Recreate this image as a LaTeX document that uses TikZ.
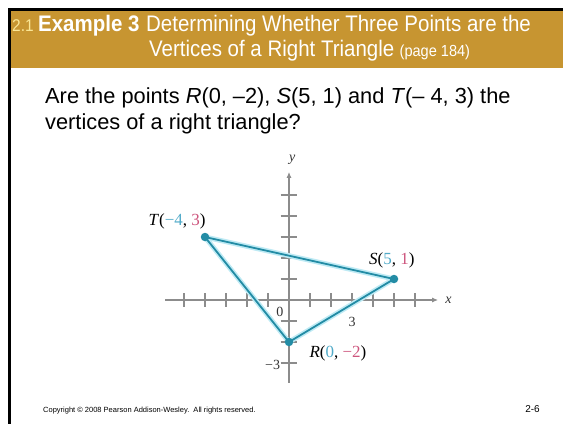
\documentclass[tikz,border=0pt]{standalone}
\usepackage{fontspec}
\setmainfont{Liberation Sans}
\newfontfamily\titlefont[FakeStretch=0.91]{Liberation Sans}
\newfontfamily\figfont{Liberation Serif}
\usetikzlibrary{arrows.meta}
\definecolor{slidegold}{RGB}{199,149,49}
\definecolor{numyellow}{RGB}{250,230,150}
\definecolor{triteal}{RGB}{35,140,165}
\definecolor{triglow}{RGB}{190,234,244}
\definecolor{coordteal}{RGB}{80,170,200}
\definecolor{coordpink}{RGB}{205,85,125}
\definecolor{axisgray}{RGB}{140,140,140}

\begin{document}
\begin{tikzpicture}[x=1pt,y=-1pt]
\tikzset{titletext/.style={anchor=base west, inner sep=0pt, text=white, font=\titlefont\fontsize{22.5}{26}\selectfont},
  bodytext/.style={anchor=base west, inner sep=0pt, font=\fontsize{21.8}{25}\selectfont},
  ptdot/.style={circle, fill=triteal, inner sep=0pt, minimum size=8.5pt},
  ptlabel/.style={inner sep=0pt, font=\figfont\fontsize{17}{20}\selectfont},
  axlabel/.style={inner sep=0pt, text=black!80, font=\figfont\fontsize{14}{16}\selectfont},
  axisline/.style={axisgray, line width=1.1pt}}
\useasboundingbox (0,0) rectangle (563,424);
% slide frame and title band
\fill[black] (8,8) rectangle (563,11);
\fill[black] (8,8) rectangle (11,424);
\fill[slidegold] (11,11) rectangle (563,68);
\node[titletext, text=numyellow, font=\titlefont\fontsize{17}{20}\selectfont] (num) at (12,31) {2.1};
\node[titletext, font=\titlefont\bfseries\fontsize{22.5}{26}\selectfont] (ex) at (38,31) {Example 3};
\node[titletext] (title1) at (146,31) {Determining Whether Three Points are the};
\node[titletext] (title2) at (149,56) {Vertices of a Right Triangle};
\node[titletext, font=\titlefont\fontsize{16}{19}\selectfont] (page) at ([xshift=5pt]title2.base east) {(page 184)};
% question
\node[bodytext] (q1) at (45,103) {Are the points \textit{R}(0, –2), \textit{S}(5, 1) and \textit{T}(– 4, 3) the};
\node[bodytext] (q2) at (45,129) {vertices of a right triangle?};
% graph
\begin{scope}[x=21pt,y=21pt,shift={(289pt,-300pt)}]
\draw[axisline,-{Latex[length=6pt,width=5pt]}] (-5.9,0) -- (7.1,0);
\draw[axisline,-{Latex[length=6pt,width=5pt]}] (0,-3.95) -- (0,6.1);
\foreach \i in {-5,...,-1,1,2,...,6}
  \draw[axisline] (\i,-0.33) -- (\i,0.33);
\foreach \j in {-3,-2,-1,1,2,...,5}
  \draw[axisline] (-0.4,\j) -- (0.4,\j);
\node[axlabel, font=\figfont\itshape\fontsize{14}{16}\selectfont] (xlab) at (7.6,0) {x};
\node[axlabel, font=\figfont\itshape\fontsize{14}{16}\selectfont] (ylab) at (0.15,6.7) {y};
\node[axlabel] (zero) at (-0.43,-0.57) {0};
\node[axlabel] (three) at (3,-1.03) {3};
\node[axlabel] (mthree) at (-0.78,-3.1) {−3};
\coordinate (R) at (0,-2);
\coordinate (S) at (5,1);
\coordinate (T) at (-4,3);
\draw[triglow, line width=5pt, line join=round] (T) -- (S) -- (R) -- cycle;
\draw[triteal, line width=1.8pt, line join=round] (T) -- (S) -- (R) -- cycle;
\node[ptdot] (Rdot) at (R) {};
\node[ptdot] (Sdot) at (S) {};
\node[ptdot] (Tdot) at (T) {};
\node[ptlabel] (Tlab) at (-5.33,3.76) {\textit{T}(\textcolor{coordteal}{−4}, \textcolor{coordpink}{3})};
\node[ptlabel] (Slab) at (4.9,1.9) {\textit{S}(\textcolor{coordteal}{5}, \textcolor{coordpink}{1})};
\node[ptlabel] (Rlab) at (2.33,-2.52) {\textit{R}(\textcolor{coordteal}{0}, \textcolor{coordpink}{−2})};
\end{scope}
% footer
\node[anchor=base west, inner sep=0pt, font=\fontsize{7.5}{9}\selectfont] (copy) at (43,412) {Copyright © 2008 Pearson Addison-Wesley.\ \ All rights reserved.};
\node[anchor=base east, inner sep=0pt, font=\fontsize{10}{12}\selectfont] (slideno) at (540,412) {2-6};
\end{tikzpicture}
\end{document}
